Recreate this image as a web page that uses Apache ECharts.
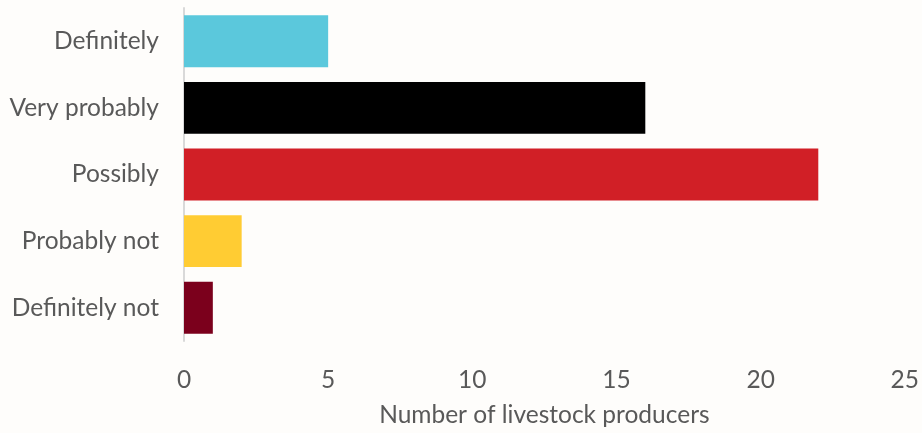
<!DOCTYPE html>
<html>
<head>
<meta charset="utf-8">
<script src="https://cdn.jsdelivr.net/npm/echarts@6/dist/echarts.min.js"></script>
<style>
html,body{margin:0;padding:0;background:#fefdfb;}
#chart{width:922px;height:433px;}
</style>
</head>
<body>
<div id="chart"></div>
<script>
var categories = ['Definitely', 'Very probably', 'Possibly', 'Probably not', 'Definitely not'];
var values = [5, 16, 22, 2, 1];
var barColors = ['#5bc8dc', '#000000', '#d11f26', '#ffcc33', '#7b001c'];
var xTicks = [0, 5, 10, 15, 20, 25];
var xAxisTitle = 'Number of livestock producers';

var font = 'Lato, "Open Sans", sans-serif';
var chart = echarts.init(document.getElementById('chart'));
chart.setOption({
  backgroundColor: '#fefdfb',
  animation: false,
  grid: {left: 184, right: 15, top: 8, bottom: 92, containLabel: false},
  xAxis: {
    type: 'value',
    min: xTicks[0], max: xTicks[xTicks.length - 1], interval: 5,
    axisLine: {show: false},
    axisTick: {show: false},
    splitLine: {show: false},
    axisLabel: {color: '#595959', fontSize: 24.5, fontFamily: font, margin: 27},
    name: xAxisTitle,
    nameLocation: 'middle',
    nameGap: 74,
    nameTextStyle: {color: '#595959', fontSize: 24.5, fontFamily: font, verticalAlign: 'middle'}
  },
  yAxis: {
    type: 'category',
    inverse: true,
    data: categories,
    axisLine: {show: true, lineStyle: {color: '#d9d9d9', width: 2}},
    axisTick: {show: false},
    axisLabel: {color: '#595959', fontSize: 24.5, fontFamily: font, margin: 25}
  },
  series: [{
    type: 'bar',
    data: values.map(function (v, i) { return {value: v, itemStyle: {color: barColors[i]}}; }),
    barCategoryGap: '22%'
  }]
});
</script>
</body>
</html>
